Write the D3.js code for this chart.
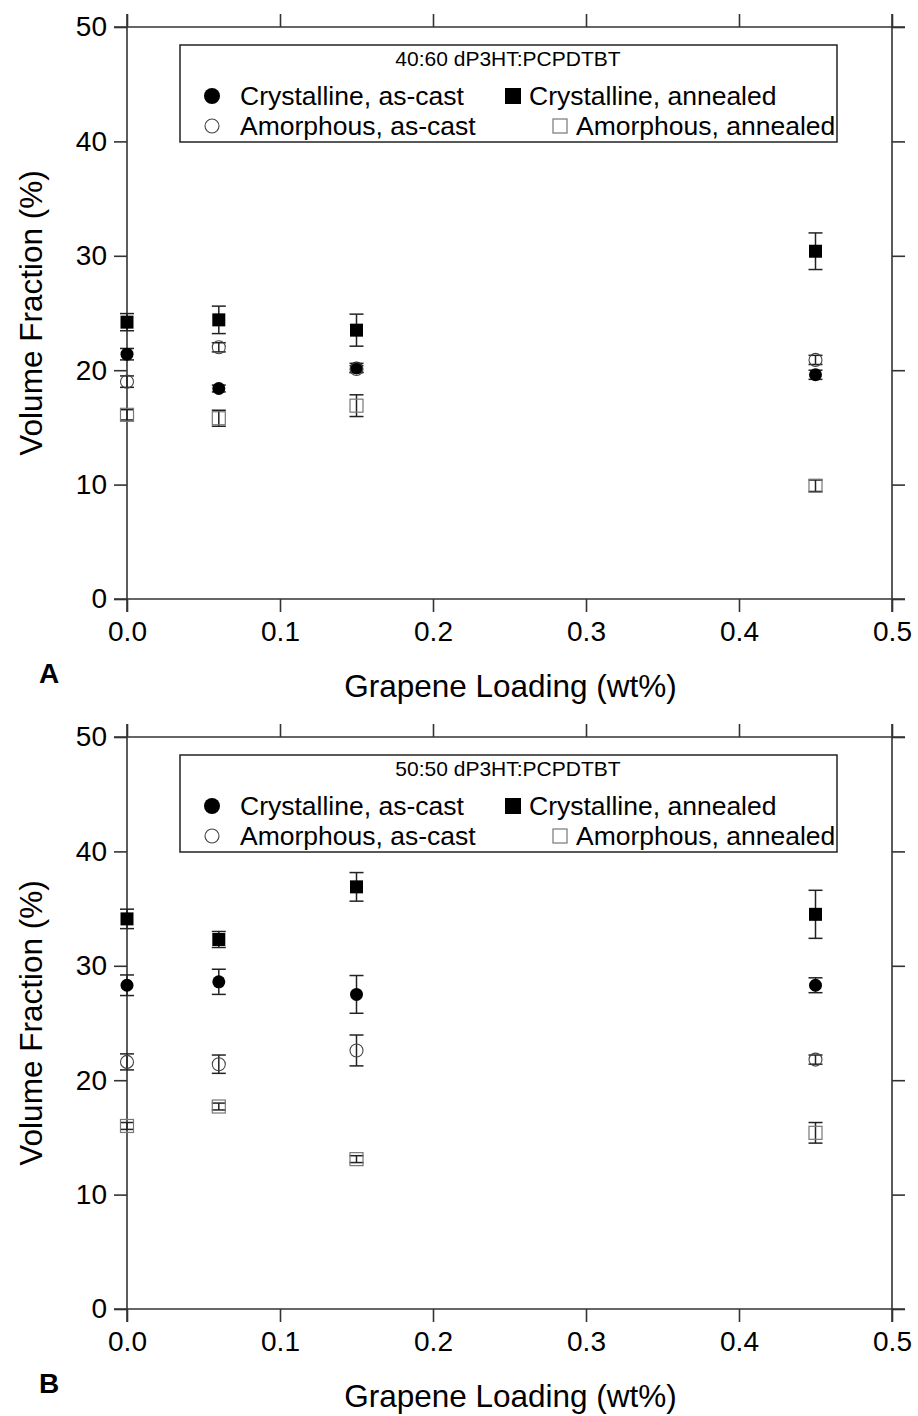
<!DOCTYPE html>
<html>
<head>
<meta charset="utf-8">
<script src="https://cdn.jsdelivr.net/npm/d3@7"></script>
<style>
  body { margin: 0; background: #fff; }
  text { font-family: "Liberation Sans", Arial, sans-serif; fill: #000; }
</style>
</head>
<body>
<script>
// graphene loading (wt%) shared by both panels
var loading = [0, 0.06, 0.15, 0.45];

// panel A: 40:60 blend
var crystCastA = [21.4, 18.4, 20.2, 19.6],  crystCastErrA = [0.5, 0.3, 0.4, 0.4];
var crystAnnA  = [24.2, 24.4, 23.5, 30.4],  crystAnnErrA  = [0.75, 1.2, 1.4, 1.6];
var amorCastA  = [19.0, 22.0, 20.1, 20.9],  amorCastErrA  = [0.5, 0.4, 0.3, 0.4];
var amorAnnA   = [16.1, 15.8, 16.9, 9.9],   amorAnnErrA   = [0.45, 0.7, 0.95, 0.5];

// panel B: 50:50 blend
var crystCastB = [28.3, 28.6, 27.5, 28.3],  crystCastErrB = [0.9, 1.1, 1.65, 0.65];
var crystAnnB  = [34.1, 32.3, 36.9, 34.5],  crystAnnErrB  = [0.85, 0.7, 1.25, 2.1];
var amorCastB  = [21.6, 21.4, 22.6, 21.8],  amorCastErrB  = [0.7, 0.8, 1.35, 0.4];
var amorAnnB   = [16.0, 17.7, 13.1, 15.4],  amorAnnErrB   = [0.3, 0.3, 0.3, 0.9];

var xTicks = [0, 0.1, 0.2, 0.3, 0.4, 0.5];
var yTicks = [0, 10, 20, 30, 40, 50];
var legendLabels = ["Crystalline, as-cast", "Crystalline, annealed",
                    "Amorphous, as-cast", "Amorphous, annealed"];

var W = 918, H = 1416;
var svg = d3.select("body").append("svg").attr("width", W).attr("height", H);

var left = 127, right = 892, plotH = 572, tick = 13;
var x = d3.scaleLinear().domain([0, 0.5]).range([left, right]);

function panel(top, letter, title, series) {
  var y = d3.scaleLinear().domain([0, 50]).range([top + plotH, top]);
  var g = svg.append("g");
  var ax = "#333";

  // frame: each side extends by the tick length, like the original
  g.append("line").attr("x1", left).attr("x2", left).attr("y1", top - tick).attr("y2", top + plotH + tick);
  g.append("line").attr("x1", right).attr("x2", right).attr("y1", top - tick).attr("y2", top + plotH + tick);
  g.append("line").attr("x1", left - tick).attr("x2", right + tick).attr("y1", top).attr("y2", top);
  g.append("line").attr("x1", left - tick).attr("x2", right + tick).attr("y1", top + plotH).attr("y2", top + plotH);
  g.selectAll("line").attr("stroke", ax).attr("stroke-width", 1.6);

  var yl = g.append("g").attr("transform", "translate(" + left + ",0)")
    .call(d3.axisLeft(y).tickValues(yTicks).tickFormat(d3.format("d")).tickSize(tick).tickPadding(7));
  var yr = g.append("g").attr("transform", "translate(" + right + ",0)")
    .call(d3.axisRight(y).tickValues(yTicks).tickFormat("").tickSize(tick));
  var xb = g.append("g").attr("transform", "translate(0," + (top + plotH) + ")")
    .call(d3.axisBottom(x).tickValues(xTicks).tickFormat(d3.format(".1f")).tickSize(tick).tickPadding(9));
  var xt = g.append("g").attr("transform", "translate(0," + top + ")")
    .call(d3.axisTop(x).tickValues(xTicks).tickFormat("").tickSize(tick));
  [yl, yr, xb, xt].forEach(function (a) {
    a.select(".domain").remove();
    a.selectAll(".tick line").attr("stroke", ax).attr("stroke-width", 1.6);
    a.selectAll(".tick text").attr("font-size", 28).attr("fill", "#000")
      .attr("font-family", "Liberation Sans, Arial, sans-serif");
  });

  // axis titles and panel letter
  g.append("text").attr("x", (left + right) / 2 + 1).attr("y", top + plotH + 98)
    .attr("text-anchor", "middle").attr("font-size", 31.5).text("Grapene Loading (wt%)");
  g.append("text").attr("transform", "translate(42," + (top + plotH / 2) + ") rotate(-90)")
    .attr("text-anchor", "middle").attr("font-size", 31.5).text("Volume Fraction (%)");
  g.append("text").attr("x", 39).attr("y", top + plotH + 84)
    .attr("font-size", 28).attr("font-weight", "bold").text(letter);

  // error bars first, markers on top
  series.forEach(function (s) {
    var pts = loading.map(function (v, i) { return { x: v, y: s.vals[i], e: s.errs[i] }; });
    var eb = g.append("g").attr("stroke", "#222").attr("stroke-width", 1.5);
    pts.forEach(function (p) {
      var cx = x(p.x), y1 = y(p.y + p.e), y2 = y(p.y - p.e);
      eb.append("line").attr("x1", cx).attr("x2", cx).attr("y1", y1).attr("y2", y2);
      eb.append("line").attr("x1", cx - 7).attr("x2", cx + 7).attr("y1", y1).attr("y2", y1);
      eb.append("line").attr("x1", cx - 7).attr("x2", cx + 7).attr("y1", y2).attr("y2", y2);
    });
    s.pts = pts;
  });
  series.forEach(function (s) {
    s.pts.forEach(function (p) { marker(g, s.kind, x(p.x), y(p.y), 6.5); });
  });

  // legend box
  var lg = g.append("g");
  lg.append("rect").attr("x", 180).attr("y", top + 18).attr("width", 657).attr("height", 97)
    .attr("fill", "#fff").attr("stroke", "#222").attr("stroke-width", 1.5);
  lg.append("text").attr("x", 508).attr("y", top + 39).attr("text-anchor", "middle")
    .attr("font-size", 21).text(title);
  var pos = [[212, 240, 69], [513, 529, 69], [212, 240, 99], [560, 576, 99]];
  series.forEach(function (s, i) {
    var p = pos[i];
    marker(lg, s.kind, p[0], top + p[2], s.kind.indexOf("open") === 0 ? 7 : 8);
    lg.append("text").attr("x", p[1]).attr("y", top + p[2] + 9).attr("font-size", 26.5).text(legendLabels[i]);
  });
}

function marker(g, kind, cx, cy, r) {
  if (kind === "fillCircle") {
    g.append("circle").attr("cx", cx).attr("cy", cy).attr("r", r).attr("fill", "#000");
  } else if (kind === "fillSquare") {
    g.append("rect").attr("x", cx - r).attr("y", cy - r).attr("width", 2 * r).attr("height", 2 * r).attr("fill", "#000");
  } else if (kind === "openCircle") {
    g.append("circle").attr("cx", cx).attr("cy", cy).attr("r", r)
      .attr("fill", "none").attr("stroke", "#444").attr("stroke-width", 1.1);
  } else {
    g.append("rect").attr("x", cx - r).attr("y", cy - r).attr("width", 2 * r).attr("height", 2 * r)
      .attr("fill", "none").attr("stroke", "#777").attr("stroke-width", 1.2);
  }
}

panel(27, "A", "40:60 dP3HT:PCPDTBT", [
  { kind: "fillCircle", vals: crystCastA, errs: crystCastErrA },
  { kind: "fillSquare", vals: crystAnnA,  errs: crystAnnErrA },
  { kind: "openCircle", vals: amorCastA,  errs: amorCastErrA },
  { kind: "openSquare", vals: amorAnnA,   errs: amorAnnErrA }
]);
panel(737, "B", "50:50 dP3HT:PCPDTBT", [
  { kind: "fillCircle", vals: crystCastB, errs: crystCastErrB },
  { kind: "fillSquare", vals: crystAnnB,  errs: crystAnnErrB },
  { kind: "openCircle", vals: amorCastB,  errs: amorCastErrB },
  { kind: "openSquare", vals: amorAnnB,   errs: amorAnnErrB }
]);
</script>
</body>
</html>
